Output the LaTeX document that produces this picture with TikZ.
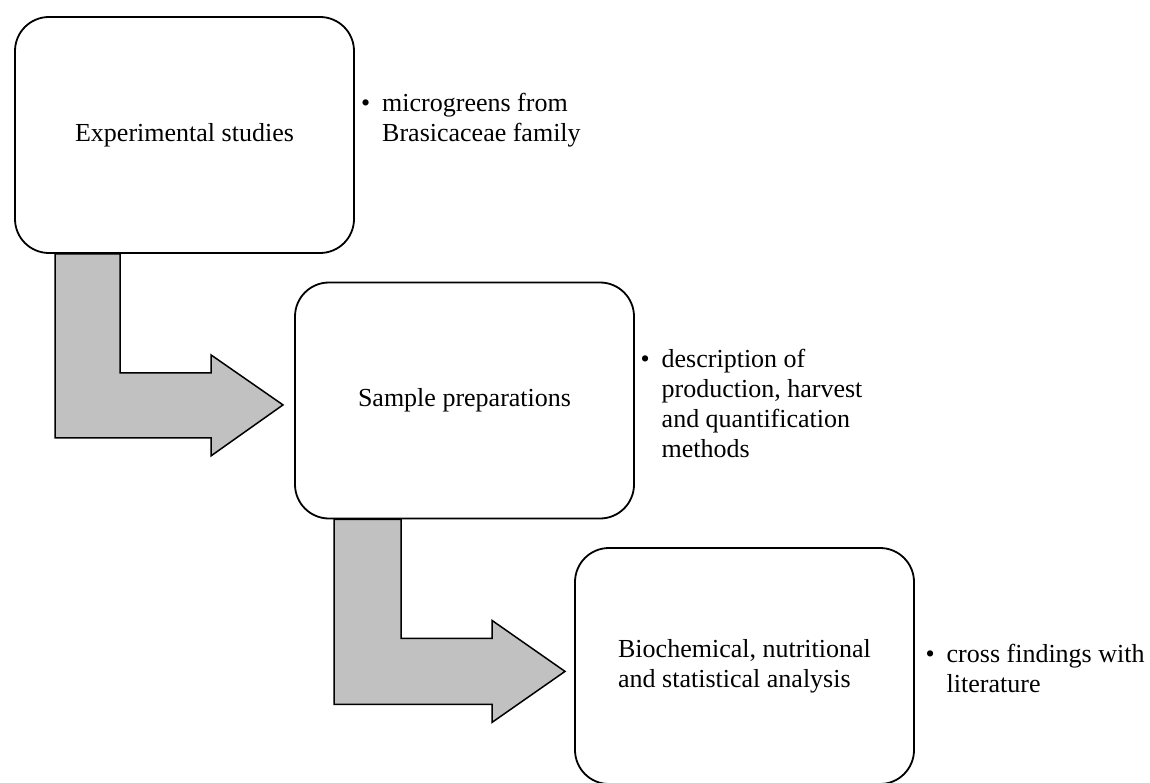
\documentclass[tikz,border=0pt]{standalone}
\usepackage{fontspec}
\setmainfont{Liberation Serif}
\usetikzlibrary{positioning}
\definecolor{arrowfill}{RGB}{192,193,192}

\begin{document}
\begin{tikzpicture}[
    x=1pt, y=-1pt,
    stage/.style={draw, line width=1.8pt, rounded corners=34pt, fill=white, minimum width=339pt, minimum height=236pt, font=\fontsize{26}{30}\selectfont},
    note/.style={anchor=base west, inner sep=0pt, font=\fontsize{26}{30}\selectfont},
    blockarrow/.style={draw, line width=1.5pt, fill=arrowfill, line join=miter}
]
\useasboundingbox (0,0) rectangle (1150,783);

% Stages
\node[stage] (exp) at (184.5,135) {Experimental studies};
\node[stage] (prep) at (464.5,400.5) {Sample preparations};
\node[stage, align=left] (anal) at (744.5,666) {Biochemical, nutritional\\and statistical analysis};

% Notes
\node[note] (expnote) at ([xshift=6pt,yshift=23pt]exp.east)
    {\begin{tabular}[t]{@{}l@{\hspace{12pt}}l@{}}\textbullet & microgreens from\\ & Brasicaceae family\end{tabular}};
\node[note] (prepnote) at ([xshift=5.5pt,yshift=33.5pt]prep.east)
    {\begin{tabular}[t]{@{}l@{\hspace{12pt}}l@{}}\textbullet & description of\\ & production, harvest\\ & and quantification\\ & methods\end{tabular}};
\node[note] (analnote) at ([xshift=10.5pt,yshift=4pt]anal.east)
    {\begin{tabular}[t]{@{}l@{\hspace{12pt}}l@{}}\textbullet & cross findings with\\ & literature\end{tabular}};

% Block arrows
\draw[blockarrow] ([xshift=-129.5pt]exp.south) -- ++(0,184) -- ++(156,0) -- ++(0,18) -- ++(72,-51)
    -- ++(-72,-50) -- ++(0,18) -- ++(-91,0) -- ++(0,-119) -- cycle;
\draw[blockarrow] ([xshift=-130.5pt]prep.south) -- ++(0,185) -- ++(158,0) -- ++(0,18) -- ++(73,-51)
    -- ++(-73,-51) -- ++(0,18) -- ++(-91,0) -- ++(0,-119) -- cycle;

\end{tikzpicture}
\end{document}
